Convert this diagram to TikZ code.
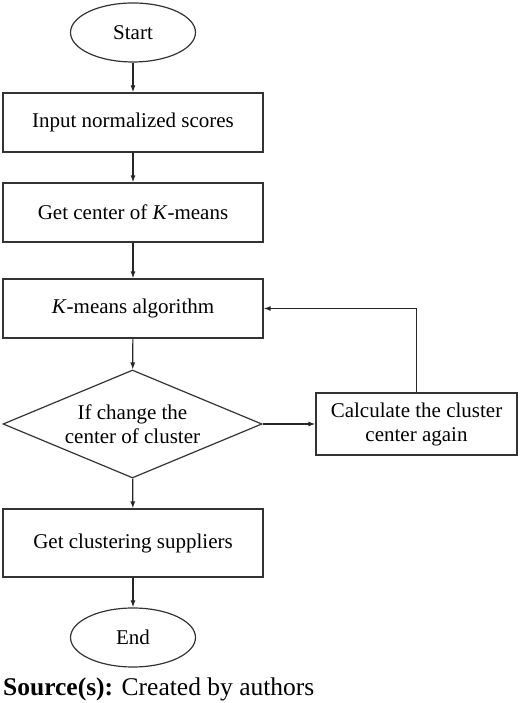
\documentclass[tikz,border=0pt]{standalone}
\usepackage{fontspec}
\setmainfont{Liberation Serif}
\usetikzlibrary{shapes.geometric,arrows.meta}
\begin{document}
\begin{tikzpicture}[x=1pt,y=1pt,
  every node/.style={font=\fontsize{21}{24}\selectfont, text=black},
  linecol/.style={draw=black!80, line width=1.2pt},
  procbox/.style={linecol, rectangle, minimum width=260pt, minimum height=59pt, inner sep=0pt, align=center},
  termnode/.style={linecol, ellipse, minimum width=125pt, minimum height=59pt, inner sep=0pt},
  decnode/.style={linecol, diamond, minimum width=259pt, minimum height=108pt, inner sep=0pt},
  conn/.style={draw=black!85, line width=1.2pt, -{Latex[length=7pt,width=5pt]}}]
\useasboundingbox (0,0) rectangle (520,703);
\node[termnode] (start) at (133,670.5) {Start};
\node[procbox] (b1) at (133,580.5) {Input normalized scores};
\node[procbox] (b2) at (133,490.5) {Get center of \textit{K}-means};
\node[procbox] (b3) at (133,394.5) {\textit{K}-means algorithm};
\node[decnode] (dec) at (132.5,279) {};
\node[align=center, inner sep=0pt] (dectext) at (dec.center) {If change the\\center of cluster};
\node[procbox, minimum width=201pt, minimum height=62pt] (calc) at (416.5,279) {Calculate the cluster\\center again};
\node[procbox, minimum height=68pt] (b4) at (133,160) {Get clustering suppliers};
\node[termnode] (endn) at (133,65.5) {End};
\node[anchor=base west, inner sep=0pt, font=\fontsize{25.5}{28}\selectfont] (src) at (3,8) {\textbf{Source(s):} Created by authors};
\draw[conn] (start) -- (b1);
\draw[conn] (b1) -- (b2);
\draw[conn] (b2) -- (b3);
\draw[conn] (b3) -- (dec);
\draw[conn] (dec) -- (calc);
\draw[conn] (calc.north) |- (b3.east);
\draw[conn] (dec) -- (b4);
\draw[conn] (b4) -- (endn);
\end{tikzpicture}
\end{document}
